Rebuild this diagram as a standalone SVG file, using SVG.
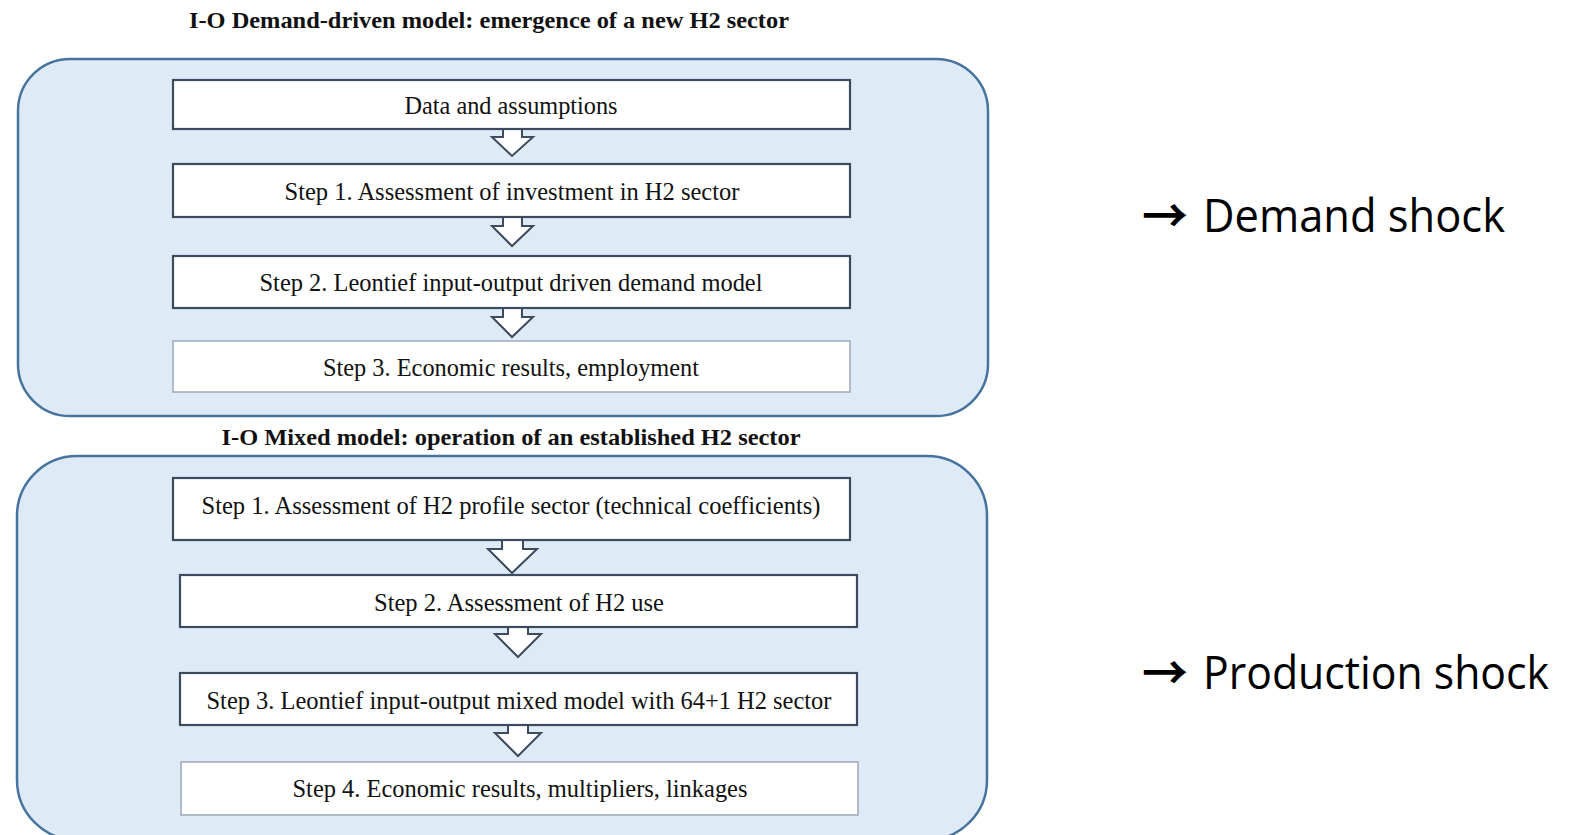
<svg xmlns="http://www.w3.org/2000/svg" width="1578" height="835" viewBox="0 0 1578 835">
<style>
.panel{fill:#deeaf6;stroke:#46749f;stroke-width:2.5}
.box{fill:#ffffff;stroke:#3c4b5f;stroke-width:2.2}
.boxl{fill:#ffffff;stroke:#a3adbb;stroke-width:1.6}
.arr{fill:#ffffff;stroke:#3c4b5f;stroke-width:2;stroke-linejoin:miter}
.ttl{font-family:"Liberation Serif","Times New Roman",serif;font-weight:bold;font-size:23px;fill:#111;text-anchor:middle}
.t{font-family:"Liberation Serif","Times New Roman",serif;font-size:25px;fill:#111;text-anchor:middle}
.side{font-family:"Open Sans","Liberation Sans",sans-serif;font-size:45px;fill:#000}
.sym{font-family:"Noto Sans CJK JP","DejaVu Sans",sans-serif;font-size:46px;font-weight:bold;fill:#000}
</style>
<rect width="1578" height="835" fill="#ffffff"/>
<g id="panel-demand">
<rect class="panel" x="18" y="59" width="970" height="357" rx="52" ry="52"/>
<text class="ttl" x="489" y="28" textLength="600" lengthAdjust="spacingAndGlyphs">I-O Demand-driven model: emergence of a new H2 sector</text>
</g>
<g id="panel-mixed">
<rect class="panel" x="17" y="456" width="970" height="384" rx="60" ry="60"/>
<text class="ttl" x="511" y="445" textLength="579" lengthAdjust="spacingAndGlyphs">I-O Mixed model: operation of an established H2 sector</text>
</g>
<g id="connectors">
<path class="arr" d="M503,128 V137 H492 L512,156 L533,137 H522 V128"/>
<path class="arr" d="M503,216 V226 H492 L512,246 L533,226 H522 V216"/>
<path class="arr" d="M503,307 V317 H492 L512,337 L533,317 H522 V307"/>
<path class="arr" d="M502,539 V549 H488 L512,573 L537,549 H523 V539"/>
<path class="arr" d="M508,626 V634 H495 L518,657 L541,634 H528 V626"/>
<path class="arr" d="M508,724 V733 H495 L518,756 L541,733 H528 V724"/>
</g>
<g id="n-data">
<rect class="box" x="173" y="80" width="677" height="49"/>
<text class="t" x="511" y="114" textLength="213" lengthAdjust="spacingAndGlyphs">Data and assumptions</text>
</g>
<g id="n-d1">
<rect class="box" x="173" y="164" width="677" height="53"/>
<text class="t" x="512" y="200" textLength="455" lengthAdjust="spacingAndGlyphs">Step 1. Assessment of investment in H2 sector</text>
</g>
<g id="n-d2">
<rect class="box" x="173" y="256" width="677" height="52"/>
<text class="t" x="511" y="291" textLength="503" lengthAdjust="spacingAndGlyphs">Step 2. Leontief input-output driven demand model</text>
</g>
<g id="n-d3">
<rect class="boxl" x="173" y="341" width="677" height="51"/>
<text class="t" x="511" y="376" textLength="376" lengthAdjust="spacingAndGlyphs">Step 3. Economic results, employment</text>
</g>
<g id="n-m1">
<rect class="box" x="173" y="478" width="677" height="62"/>
<text class="t" x="511" y="514" textLength="619" lengthAdjust="spacingAndGlyphs">Step 1. Assessment of H2 profile sector (technical coefficients)</text>
</g>
<g id="n-m2">
<rect class="box" x="180" y="575" width="677" height="52"/>
<text class="t" x="519" y="611" textLength="290" lengthAdjust="spacingAndGlyphs">Step 2. Assessment of H2 use</text>
</g>
<g id="n-m3">
<rect class="box" x="180" y="673" width="677" height="52"/>
<text class="t" x="519" y="709" textLength="625" lengthAdjust="spacingAndGlyphs">Step 3. Leontief input-output mixed model with 64+1 H2 sector</text>
</g>
<g id="n-m4">
<rect class="boxl" x="181" y="762" width="677" height="53"/>
<text class="t" x="520" y="797" textLength="455" lengthAdjust="spacingAndGlyphs">Step 4. Economic results, multipliers, linkages</text>
</g>
<g id="label-demand">
<text y="232"><tspan class="sym" x="1142">→ </tspan><tspan class="side" x="1203" textLength="302" lengthAdjust="spacingAndGlyphs">Demand shock</tspan></text>
</g>
<g id="label-production">
<text y="689"><tspan class="sym" x="1142">→ </tspan><tspan class="side" x="1203" textLength="346" lengthAdjust="spacingAndGlyphs">Production shock</tspan></text>
</g>
</svg>
